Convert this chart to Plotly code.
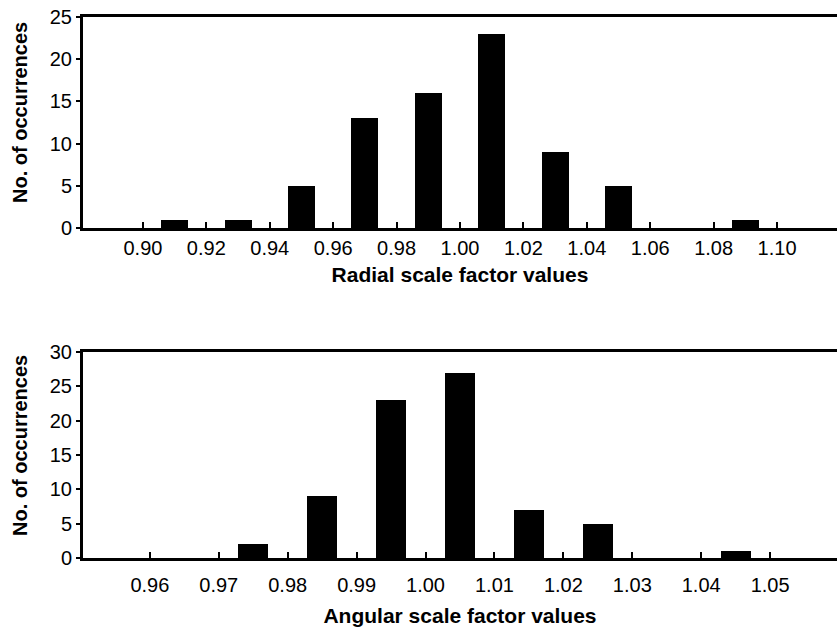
import plotly.graph_objects as go
from plotly.subplots import make_subplots

# Top histogram: radial scale factor (bin centres and counts)
radial_bins = [0.89, 0.91, 0.93, 0.95, 0.97, 0.99, 1.01, 1.03, 1.05, 1.07, 1.09, 1.11]
radial_counts = [0, 1, 1, 5, 13, 16, 23, 9, 5, 0, 1, 0]
radial_ticks = [0.90, 0.92, 0.94, 0.96, 0.98, 1.00, 1.02, 1.04, 1.06, 1.08, 1.10]
radial_ticktext = ["0.90", "0.92", "0.94", "0.96", "0.98", "1.00", "1.02", "1.04", "1.06", "1.08", "1.10"]

# Bottom histogram: angular scale factor
angular_bins = [0.955, 0.965, 0.975, 0.985, 0.995, 1.005, 1.015, 1.025, 1.035, 1.045, 1.055]
angular_counts = [0, 0, 2, 9, 23, 27, 7, 5, 0, 1, 0]
angular_ticks = [0.96, 0.97, 0.98, 0.99, 1.00, 1.01, 1.02, 1.03, 1.04, 1.05]
angular_ticktext = ["0.96", "0.97", "0.98", "0.99", "1.00", "1.01", "1.02", "1.03", "1.04", "1.05"]

W, H = 837, 627
FONT = "Liberation Sans, Arial, sans-serif"

fig = make_subplots(rows=2, cols=1)
fig.add_trace(go.Bar(x=radial_bins, y=radial_counts, width=0.0085,
                     marker=dict(color="black", line=dict(width=0)), showlegend=False), row=1, col=1)
fig.add_trace(go.Bar(x=angular_bins, y=angular_counts, width=0.00435,
                     marker=dict(color="black", line=dict(width=0)), showlegend=False), row=2, col=1)

def py(px):
    return 1 - px / H

xcommon = dict(showline=True, linewidth=3, linecolor="black", mirror=True,
               ticks="inside", ticklen=6, tickwidth=2, tickcolor="black",
               showgrid=False, zeroline=False, automargin=False,
               tickfont=dict(family=FONT, size=20, color="black"),
               title_font=dict(family=FONT, size=21, color="black"))
ycommon = dict(showline=True, linewidth=3, linecolor="black", mirror=False,
               ticks="outside", ticklen=4, tickwidth=2, tickcolor="black",
               showgrid=False, zeroline=False, automargin=False,
               tickfont=dict(family=FONT, size=20, color="black"))

fig.update_xaxes(**xcommon)
fig.update_yaxes(**ycommon)

fig.update_layout(
    width=W, height=H,
    margin=dict(l=83, r=0, t=0, b=0, autoexpand=False),
    paper_bgcolor="white", plot_bgcolor="white",
    bargap=0,
    xaxis=dict(domain=[0, 1], range=[0.8811, 1.1189], tickvals=radial_ticks, ticktext=radial_ticktext,
               ticklabelstandoff=0,
               title=dict(text="<b>Radial scale factor values</b>", standoff=10)),
    yaxis=dict(domain=[py(228), py(17)], range=[0, 25], tickvals=[0, 5, 10, 15, 20, 25]),
    xaxis2=dict(domain=[0, 1], range=[0.9503, 1.0597], tickvals=angular_ticks, ticktext=angular_ticktext,
                ticklabelstandoff=7,
                title=dict(text="<b>Angular scale factor values</b>", standoff=16)),
    yaxis2=dict(domain=[py(558), py(352)], range=[0, 30], tickvals=[0, 5, 10, 15, 20, 25, 30]),
)

for yc in (113, 446):
    fig.add_annotation(text="<b>No. of occurrences</b>", xref="paper", yref="paper",
                       x=(20 - 83) / (W - 83), y=py(yc), xanchor="center", yanchor="middle",
                       textangle=-90, showarrow=False,
                       font=dict(family=FONT, size=20, color="black"))

fig.write_html("out.html", config={"displayModeBar": False},
               post_script="document.body.style.margin='0px';")
